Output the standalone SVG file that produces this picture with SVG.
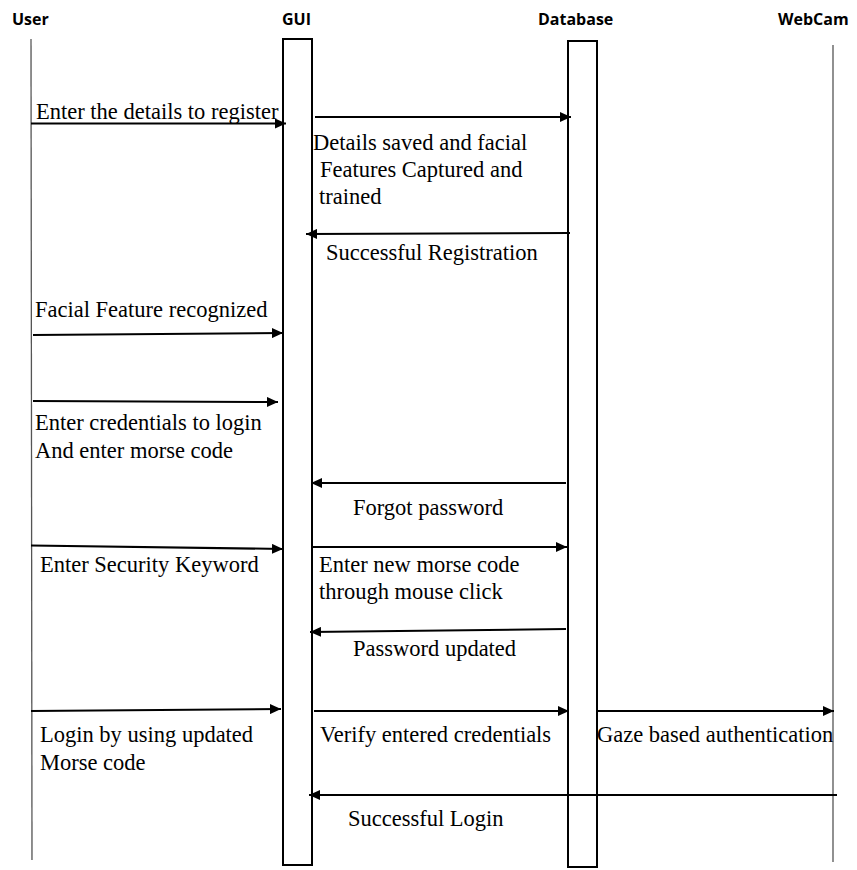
<svg xmlns="http://www.w3.org/2000/svg" width="857" height="870" viewBox="0 0 857 870">
  <style>
    .hdr { font-family: "Open Sans", "Liberation Sans", sans-serif; font-weight: bold; font-size: 16px; fill: #000; }
    .lbl { font-family: "Liberation Serif", "Times New Roman", serif; font-size: 22.5px; fill: #000; }
    .life { stroke: #555; stroke-width: 1.3; fill: none; }
    .act { fill: #fff; stroke: #000; stroke-width: 2; }
    .msg { stroke: #000; stroke-width: 2; fill: none; marker-end: url(#arrow); }
  </style>
  <defs>
    <marker id="arrow" markerUnits="userSpaceOnUse" markerWidth="11" markerHeight="10" refX="11" refY="5" orient="auto">
      <path d="M0,0 L11,5 L0,10 Z" fill="#000"/>
    </marker>
  </defs>
  <rect width="857" height="870" fill="#fff"/>

  <!-- participants -->
  <g id="user">
    <text class="hdr" x="12" y="25">User</text>
    <line class="life" x1="31" y1="39" x2="32" y2="860"/>
  </g>
  <g id="gui">
    <text class="hdr" x="282" y="25">GUI</text>
    <rect class="act" x="283" y="39" width="29" height="826"/>
  </g>
  <g id="database">
    <text class="hdr" x="538" y="25">Database</text>
    <rect class="act" x="568" y="41" width="29" height="826"/>
  </g>
  <g id="webcam">
    <text class="hdr" x="778" y="25">WebCam</text>
    <line class="life" x1="833" y1="45" x2="833" y2="862"/>
  </g>

  <!-- messages -->
  <g id="connectors">
    <g id="m1">
      <line class="msg" x1="31" y1="123.5" x2="286" y2="123.5"/>
      <text class="lbl" x="36" y="118.5">Enter the details to register</text>
    </g>
    <g id="m2">
      <line class="msg" x1="315" y1="117" x2="571" y2="117"/>
      <text class="lbl" x="313" y="150">Details saved and facial</text>
      <text class="lbl" x="320" y="177">Features Captured and</text>
      <text class="lbl" x="319" y="204">trained</text>
    </g>
    <g id="m3">
      <line class="msg" x1="570" y1="233" x2="306" y2="234"/>
      <text class="lbl" x="326" y="260">Successful Registration</text>
    </g>
    <g id="m4">
      <line class="msg" x1="33" y1="335" x2="283" y2="333"/>
      <text class="lbl" x="35" y="317">Facial Feature recognized</text>
    </g>
    <g id="m5">
      <line class="msg" x1="33" y1="401" x2="278" y2="402"/>
      <text class="lbl" x="35" y="430">Enter credentials to login</text>
      <text class="lbl" x="35" y="458">And enter morse code</text>
    </g>
    <g id="m6">
      <line class="msg" x1="566" y1="483" x2="311" y2="483"/>
      <text class="lbl" x="353" y="515">Forgot password</text>
    </g>
    <g id="m7">
      <line class="msg" x1="31" y1="545.5" x2="283" y2="549"/>
      <text class="lbl" x="40" y="572">Enter Security Keyword</text>
    </g>
    <g id="m8">
      <line class="msg" x1="312" y1="547" x2="567" y2="547"/>
      <text class="lbl" x="319" y="572">Enter new morse code</text>
      <text class="lbl" x="319" y="599">through mouse click</text>
    </g>
    <g id="m9">
      <line class="msg" x1="566" y1="629" x2="310" y2="632"/>
      <text class="lbl" x="353" y="656">Password updated</text>
    </g>
    <g id="m10">
      <line class="msg" x1="31" y1="711" x2="281" y2="709"/>
      <text class="lbl" x="40" y="742">Login by using updated</text>
      <text class="lbl" x="40" y="770">Morse code</text>
    </g>
    <g id="m11">
      <line class="msg" x1="314" y1="711" x2="569" y2="711"/>
      <text class="lbl" x="320" y="742">Verify entered credentials</text>
    </g>
    <g id="m12">
      <line class="msg" x1="598" y1="711" x2="834" y2="711"/>
      <text class="lbl" x="597" y="742">Gaze based authentication</text>
    </g>
    <g id="m13">
      <line class="msg" x1="837" y1="795" x2="309" y2="795"/>
      <text class="lbl" x="348" y="826">Successful Login</text>
    </g>
  </g>
</svg>
